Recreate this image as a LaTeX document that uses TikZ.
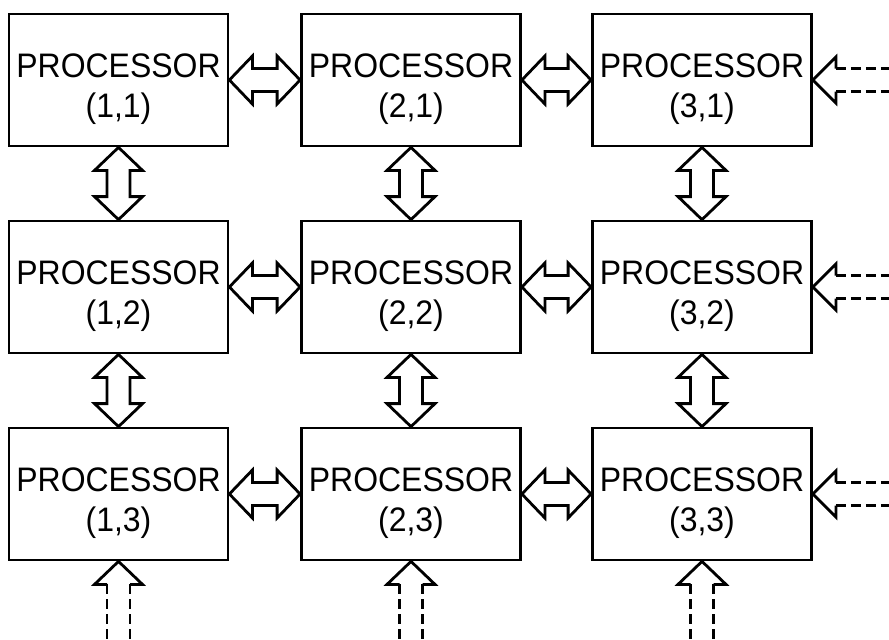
\documentclass[tikz,border=0pt]{standalone}
\usepackage{fontspec}
\setmainfont{Liberation Sans}
\usetikzlibrary{calc}

\tikzset{
  proc/.style={draw, line width=1.4pt, minimum width=109.5pt, minimum height=66pt, inner sep=0pt},
  lbl/.style={align=center, font=\fontsize{17}{20}\selectfont, xscale=0.94, inner sep=0pt},
  hbus/.style={line width=1.4pt, to path={-- ++(23,-24) -- ++(0,12.5) -- ($(\tikztotarget)+(-23,-11.5)$) -- ++(0,-12.5) -- (\tikztotarget) -- ++(-23,24) -- ++(0,-12.5) -- ($(\tikztostart)+(23,11.5)$) -- ++(0,12.5) -- cycle}},
  vbus/.style={line width=1.4pt, to path={-- ++(-24,23) -- ++(12.5,0) -- ($(\tikztotarget)+(-11.5,-23)$) -- ++(-12.5,0) -- (\tikztotarget) -- ++(24,-23) -- ++(-12.5,0) -- ($(\tikztostart)+(11.5,23)$) -- ++(12.5,0) -- cycle}},
  inhead/.style={line width=1.4pt},
  feed/.style={line width=1.4pt, dash pattern=on 5pt off 2.5pt}
}

\begin{document}
\begin{tikzpicture}[x=0.5pt, y=-0.5pt]
\useasboundingbox (0,0) rectangle (889,639);
\coordinate (edgeR) at (889,0);
\coordinate (edgeB) at (0,639);

% processor grid
\foreach \c/\x in {1/118.5, 2/411, 3/702}
  \foreach \r/\y in {1/80, 2/287, 3/494} {
    \node[proc] (p\c\r) at (\x,\y) {};
    \node[lbl] (t\c\r) at ([yshift=-4.5pt]p\c\r.center) {PROCESSOR\\(\c,\r)};
  }

% links along rows, inputs from the right
\foreach \r in {1,2,3} {
  \draw[hbus] (p1\r.east) to (p2\r.west);
  \draw[hbus] (p2\r.east) to (p3\r.west);
  \draw[inhead] ($(p3\r.east)+(23,-11.5)$) -- ++(0,-11.5) -- (p3\r.east) -- ++(23,23) -- ++(0,-11.5);
  \draw[feed] ($(p3\r.east)+(23,-11.5)$) -- ($(p3\r.east -| edgeR)+(0,-11.5)$);
  \draw[feed] ($(p3\r.east)+(23,11.5)$) -- ($(p3\r.east -| edgeR)+(0,11.5)$);
}

% links along columns, inputs from below
\foreach \c in {1,2,3} {
  \draw[vbus] (p\c1.south) to (p\c2.north);
  \draw[vbus] (p\c2.south) to (p\c3.north);
  \draw[inhead] ($(p\c3.south)+(-11.5,23)$) -- ++(-12.5,0) -- (p\c3.south) -- ++(24,23) -- ++(-12.5,0);
  \draw[feed] ($(p\c3.south)+(-11.5,23)$) -- ($(p\c3.south |- edgeB)+(-11.5,0)$);
  \draw[feed] ($(p\c3.south)+(11.5,23)$) -- ($(p\c3.south |- edgeB)+(11.5,0)$);
}

\end{tikzpicture}
\end{document}
